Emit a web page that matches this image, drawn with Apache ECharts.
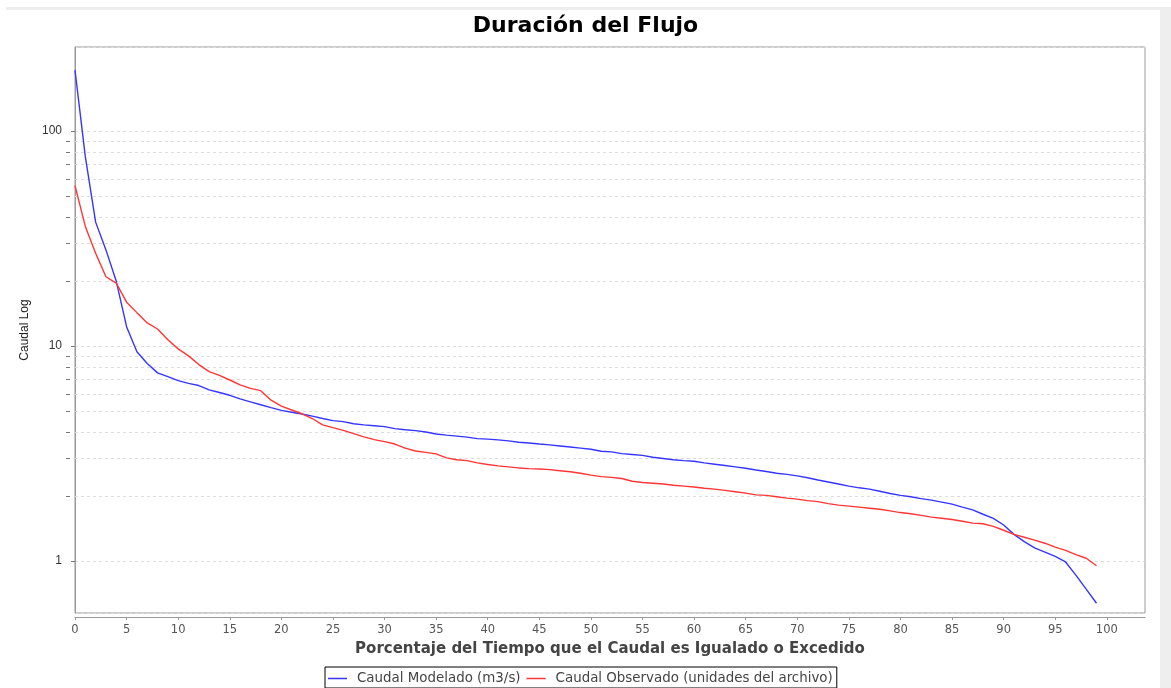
<!DOCTYPE html>
<html><head><meta charset="utf-8">
<script src="https://cdn.jsdelivr.net/npm/echarts@6/dist/echarts.min.js"></script>
<style>html,body{margin:0;padding:0;background:#fff}#c{width:1171px;height:688px}</style>
</head><body><div id="c"></div>
<script>
const titleText = 'Duración del Flujo';
const xAxisName = 'Porcentaje del Tiempo que el Caudal es Igualado o Excedido';
const yAxisName = 'Caudal Log';
const seriesNames = ['Caudal Modelado (m3/s)', 'Caudal Observado (unidades del archivo)'];

const percentExceeded = [0,1,2,3,4,5,6,7,8,9,10,11,12,13,14,15,16,17,18,19,20,21,22,23,24,25,26,27,28,29,30,31,32,33,34,35,36,37,38,39,40,41,42,43,44,45,46,47,48,49,50,51,52,53,54,55,56,57,58,59,60,61,62,63,64,65,66,67,68,69,70,71,72,73,74,75,76,77,78,79,80,81,82,83,84,85,86,87,88,89,90,91,92,93,94,95,96,97,98,99];

const modeledFlow = [192,76,37.7,28,20,12.3,9.4,8.3,7.5,7.2,6.9,6.7,6.55,6.25,6.08,5.9,5.68,5.5,5.33,5.17,5.02,4.92,4.83,4.72,4.6,4.5,4.45,4.35,4.3,4.26,4.22,4.13,4.08,4.04,3.98,3.9,3.85,3.81,3.77,3.71,3.69,3.66,3.62,3.57,3.54,3.5,3.47,3.43,3.39,3.35,3.31,3.24,3.22,3.16,3.13,3.1,3.04,3.0,2.96,2.93,2.91,2.86,2.82,2.78,2.74,2.7,2.65,2.61,2.56,2.53,2.49,2.44,2.38,2.33,2.28,2.23,2.19,2.16,2.11,2.06,2.02,1.99,1.95,1.92,1.88,1.84,1.78,1.73,1.65,1.58,1.47,1.33,1.23,1.15,1.10,1.05,0.99,0.86,0.74,0.636];

const observedFlow = [55.7,36,27,21,19.6,16,14.3,12.8,12.0,10.7,9.7,9.0,8.2,7.6,7.3,6.95,6.6,6.35,6.2,5.6,5.25,5.04,4.84,4.6,4.3,4.17,4.05,3.91,3.78,3.67,3.59,3.5,3.35,3.25,3.2,3.15,3.02,2.96,2.93,2.86,2.81,2.77,2.74,2.71,2.69,2.68,2.66,2.63,2.6,2.56,2.51,2.47,2.45,2.42,2.35,2.32,2.3,2.28,2.25,2.23,2.21,2.18,2.16,2.13,2.1,2.07,2.03,2.02,1.99,1.96,1.94,1.91,1.89,1.85,1.82,1.8,1.78,1.76,1.74,1.71,1.68,1.66,1.63,1.6,1.58,1.56,1.53,1.5,1.49,1.45,1.39,1.33,1.29,1.25,1.21,1.16,1.12,1.07,1.03,0.95];

// minor log gridlines / ticks drawn only between 1 and 100
const minorGridValues = [2,3,4,5,6,7,8,9,20,30,40,50,60,70,80,90];

const xRange = [0, 103.7];
const yRange = [0.573, 246];

const chart = echarts.init(document.getElementById('c'), null, {renderer: 'canvas'});
const pair = (ys) => percentExceeded.map((x, i) => [x, ys[i]]);

chart.setOption({
  backgroundColor: '#ffffff',
  animation: false,
  title: {
    text: titleText, left: 'center', top: 10,
    textStyle: {fontFamily: 'DejaVu Sans', fontWeight: 'bold', fontSize: 22, color: '#000'}
  },
  graphic: [
    {type: 'rect', shape: {x: 6, y: 7, width: 1165, height: 3}, style: {fill: '#eeeeee'}, silent: true},
    {type: 'rect', shape: {x: 1160, y: 7, width: 11, height: 681}, style: {fill: '#eeeeee'}, silent: true}
  ],
  grid: {
    left: 75, right: 26, top: 47, bottom: 75,
    show: true, borderColor: '#999', borderWidth: 1, backgroundColor: '#fff'
  },
  legend: {
    data: seriesNames, left: 325, top: 667,
    borderColor: '#000', borderWidth: 1, padding: [5, 4, 3, 3], itemGap: 6,
    icon: 'rect', itemWidth: 19, itemHeight: 1.5,
    textStyle: {fontFamily: 'DejaVu Sans', fontSize: 13.4, color: '#444', padding: [0, 0, 0, 5]}
  },
  xAxis: {
    type: 'value', min: xRange[0], max: xRange[1], interval: 5, offset: 4,
    name: xAxisName, nameLocation: 'middle', nameGap: 25,
    nameTextStyle: {fontFamily: 'DejaVu Sans', fontWeight: 'bold', fontSize: 15, color: '#444'},
    axisLine: {lineStyle: {color: '#999', width: 1}},
    axisTick: {show: true, length: 3, lineStyle: {color: '#999'}},
    axisLabel: {showMaxLabel: false, margin: 7, fontFamily: 'DejaVu Sans', fontSize: 11.5, color: '#555'},
    splitLine: {show: false}
  },
  yAxis: {
    type: 'log', logBase: 10, min: yRange[0], max: yRange[1], offset: 5,
    name: yAxisName, nameLocation: 'middle', nameGap: 37, nameRotate: 90,
    nameTextStyle: {fontFamily: 'Liberation Sans', fontSize: 12, color: '#222'},
    axisLine: {show: true, lineStyle: {color: '#999', width: 1}},
    axisTick: {show: true, length: 4, lineStyle: {color: '#777'}},
    axisLabel: {showMinLabel: false, showMaxLabel: false, margin: 8, fontFamily: 'Liberation Sans', fontSize: 12, color: '#333'},
    splitLine: {show: true, lineStyle: {color: '#dddddd', type: [3, 3]}}
  },
  series: [
    {
      type: 'custom', name: 'minorGrid', silent: true, clip: false, z: 1,
      data: minorGridValues.map(v => [xRange[0], v]),
      renderItem: (params, api) => {
        const p = api.coord([api.value(0), api.value(1)]);
        const cs = params.coordSys;
        const y = Math.round(p[1]) + 0.5;
        return {type: 'group', children: [
          {type: 'line', shape: {x1: cs.x, y1: y, x2: cs.x + cs.width, y2: y},
           style: {stroke: '#dddddd', lineDash: [3, 3], lineWidth: 1}},
          {type: 'line', shape: {x1: cs.x - 5 - 4, y1: y, x2: cs.x - 5, y2: y},
           style: {stroke: '#777', lineWidth: 1}}
        ]};
      }
    },
    {name: seriesNames[0], type: 'line', data: pair(modeledFlow), symbol: 'none', z: 3,
     lineStyle: {color: '#3535ff', width: 1.4}, itemStyle: {color: '#3535ff'}},
    {name: seriesNames[1], type: 'line', data: pair(observedFlow), symbol: 'none', z: 3,
     lineStyle: {color: '#ff3535', width: 1.4}, itemStyle: {color: '#ff3535'}}
  ]
});
</script></body></html>
